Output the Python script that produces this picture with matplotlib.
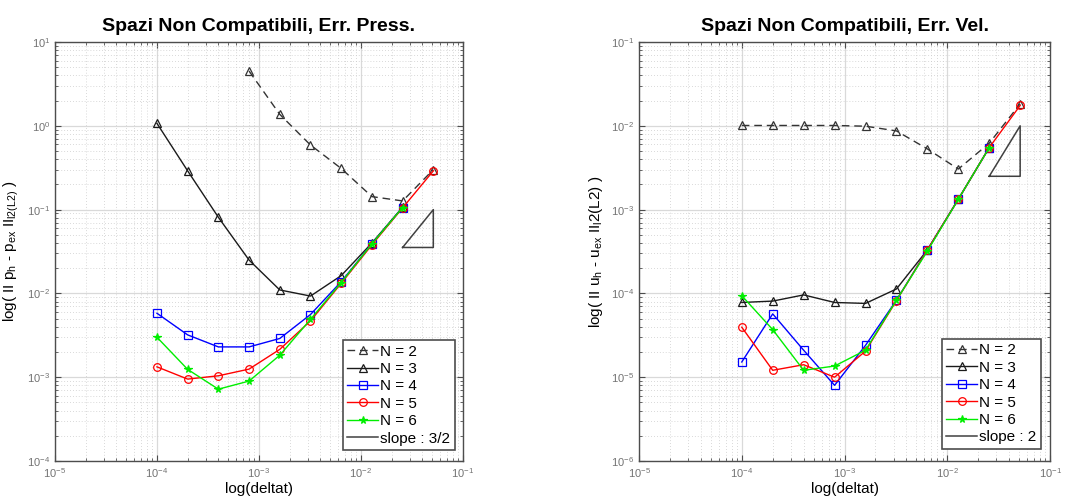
import matplotlib
matplotlib.use("Agg")
import matplotlib.pyplot as plt
import numpy as np

plt.rcParams["font.family"] = ["Liberation Sans", "DejaVu Sans"]
plt.rcParams["mathtext.fontset"] = "custom"
plt.rcParams["mathtext.rm"] = "Liberation Sans"
plt.rcParams["mathtext.it"] = "Liberation Sans"

# passi temporali
dt = [1e-4, 2e-4, 4e-4, 8e-4, 1.6e-3, 3.2e-3, 6.4e-3, 1.28e-2, 2.56e-2, 5.12e-2]

# errore pressione
p_n2 = [np.nan, np.nan, np.nan, 4.5, 1.37, 0.59, 0.31, 0.143, 0.127, 0.30]
p_n3 = [1.07, 0.29, 0.081, 0.025, 0.011, 0.0093, 0.0163, 0.040, 0.107, np.nan]
p_n4 = [0.0058, 0.0032, 0.0023, 0.0023, 0.0029, 0.0056, 0.0138, 0.039, 0.106, np.nan]
p_n5 = [0.00133, 0.00095, 0.00104, 0.00125, 0.00215, 0.0047, 0.0132, 0.038, 0.105, 0.29]
p_n6 = [0.0030, 0.00124, 0.00072, 0.00090, 0.00183, 0.0049, 0.0135, 0.039, 0.106, np.nan]

# errore velocita
u_n2 = [0.0101, 0.0101, 0.0101, 0.0101, 0.0099, 0.0087, 0.0053, 0.00305, 0.0062, 0.0183]
u_n3 = [7.8e-5, 8.1e-5, 9.6e-5, 7.8e-5, 7.6e-5, 1.13e-4, 3.3e-4, 1.33e-3, 5.5e-3, np.nan]
u_n4 = [1.52e-5, 5.7e-5, 2.1e-5, 8.0e-6, 2.4e-5, 8.3e-5, 3.3e-4, 1.33e-3, 5.5e-3, np.nan]
u_n5 = [3.95e-5, 1.21e-5, 1.41e-5, 1.0e-5, 2.05e-5, 8.2e-5, 3.3e-4, 1.33e-3, 5.5e-3, 0.0175]
u_n6 = [9.4e-5, 3.7e-5, 1.21e-5, 1.36e-5, 2.1e-5, 8.3e-5, 3.2e-4, 1.33e-3, 5.5e-3, np.nan]

# triangoli di pendenza: x0, x1, y in alto, pendenza
tri_p = (2.56e-2, 5.12e-2, 0.1, 1.5)
tri_u = (2.56e-2, 5.12e-2, 0.01, 2.0)


def draw_panel(ax, series, tri, title, ylabel, ylim, slope_lbl, leg_anchor):
    styles = [
        dict(color="0.2", dashes=(5.5, 3.5), marker="^", mfc="none", label="N = 2"),
        dict(color="0.1", ls="-", marker="^", mfc="none", label="N = 3"),
        dict(color="b", ls="-", marker="s", mfc="none", label="N = 4"),
        dict(color="r", ls="-", marker="o", mfc="none", label="N = 5"),
        dict(color="#00ee00", ls="-", marker="*", label="N = 6"),
    ]
    for y, st in zip(series, styles):
        ax.plot(dt, y, lw=1.0, ms=5.5, mew=0.9, **st)

    x0, x1, ytop, s = tri
    ybot = ytop * (x0 / x1) ** s
    ax.plot([x0, x1, x1, x0], [ybot, ytop, ybot, ybot], color="0.25", lw=1.1,
            label=slope_lbl)

    ax.set_xscale("log")
    ax.set_yscale("log")
    ax.set_xlim(1e-5, 1e-1)
    ax.set_ylim(*ylim)
    ax.set_title(title, fontsize=14, fontweight="bold", pad=8)
    ax.set_xlabel("log(deltat)", fontsize=11, labelpad=2)
    ax.set_ylabel(ylabel, fontsize=11, labelpad=4)

    ax.grid(True, which="major", color="0.85", lw=0.9, ls="-")
    ax.grid(True, which="minor", color="0.8", lw=0.6, ls=(0, (1, 2.5)))
    ax.set_axisbelow(True)
    ax.tick_params(which="both", direction="in", top=True, right=True,
                   labelsize=8, labelcolor="0.45", colors="0.3")
    ax.tick_params(which="major", length=4)
    ax.tick_params(which="minor", length=2)
    for sp in ax.spines.values():
        sp.set_color("0.3")
        sp.set_linewidth(1.0)

    leg = ax.legend(loc="lower right", fontsize=11, frameon=True, fancybox=False,
                    handlelength=2.0, handletextpad=0.15, labelspacing=0.22,
                    borderpad=0.3, borderaxespad=0.0, bbox_to_anchor=leg_anchor)
    leg.get_frame().set_edgecolor("0.3")
    leg.get_frame().set_linewidth(1.2)
    leg.get_frame().set_alpha(1)


fig = plt.figure(figsize=(10.67, 5.01), dpi=100)
ax1 = fig.add_axes([0.0515, 0.0798, 0.3824, 0.8363])
ax2 = fig.add_axes([0.5989, 0.0798, 0.3852, 0.8363])

draw_panel(ax1, [p_n2, p_n3, p_n4, p_n5, p_n6], tri_p,
           "Spazi Non Compatibili, Err. Press.",
           r"log( II p$_h$ - p$_{ex}$ II$_{l2(L2)}$ )", (1e-4, 1e1), "slope : 3/2",
           (0.98, 0.026))
draw_panel(ax2, [u_n2, u_n3, u_n4, u_n5, u_n6], tri_u,
           "Spazi Non Compatibili, Err. Vel.",
           r"log( II u$_h$ - u$_{ex}$ II$_l$2(L2) )", (1e-6, 1e-1), "slope : 2",
           (0.978, 0.029))

fig.savefig("out.png", dpi=100)
